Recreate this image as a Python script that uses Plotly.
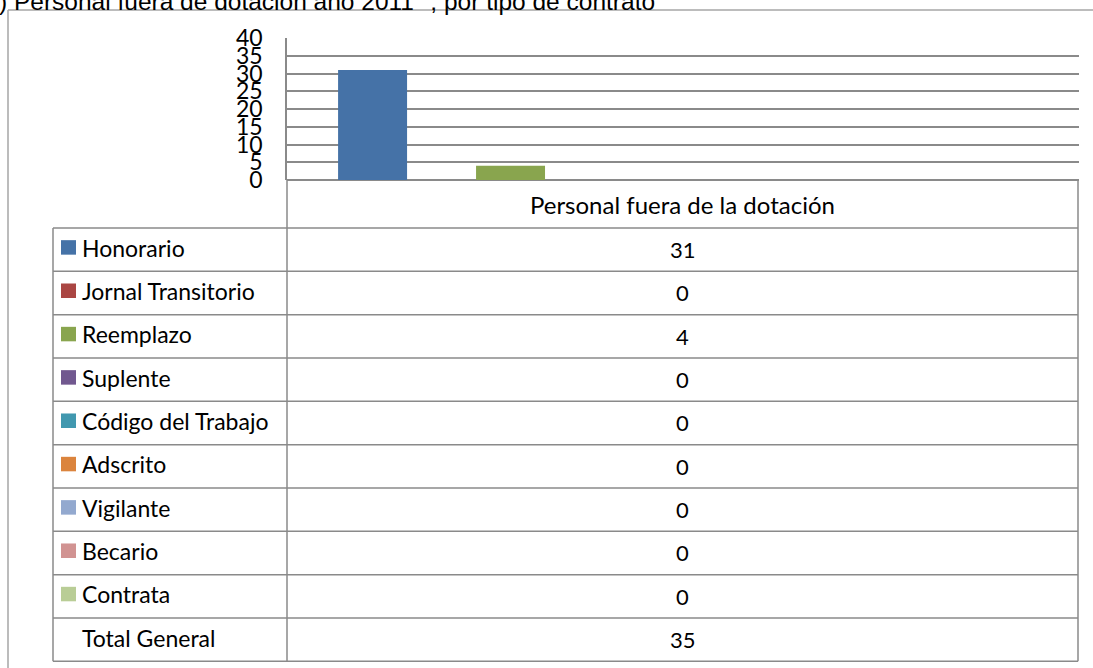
import plotly.graph_objects as go

W, H = 1093, 668

category = "Personal fuera de la dotación"
series_names = ["Honorario", "Jornal Transitorio", "Reemplazo", "Suplente",
                "Código del Trabajo", "Adscrito", "Vigilante", "Becario", "Contrata"]
series_values = [31, 0, 4, 0, 0, 0, 0, 0, 0]
series_colors = ["#4572A7", "#AA4643", "#89A54E", "#71588F", "#4198AF",
                 "#DB843D", "#93A9CF", "#D19392", "#B9CD96"]
total_label = "Total General"
total_value = 35
y_ticks = [0, 5, 10, 15, 20, 25, 30, 35, 40]
title_text = ") Personal fuera de dotación año 2011 <sup>1</sup>, por tipo de contrato"

FONT = "Lato"
LINE = "#8a8a8a"


def px(x):
    return x / W


def py(y):
    return 1 - y / H


# layout geometry (pixels)
plot_l, plot_r, plot_t, plot_b = 287, 1079, 38, 180
tab_l, tab_div, tab_r = 53, 287, 1078
head_b = 228
row_h = 43.33

fig = go.Figure()
for name, val, col in zip(series_names, series_values, series_colors):
    fig.add_trace(go.Bar(x=[category], y=[val], name=name, marker_color=col,
                         marker_line_width=0, showlegend=False))
# total series occupies a slot but is not drawn
fig.add_trace(go.Bar(x=[category], y=[total_value], name=total_label,
                     marker_color="rgba(0,0,0,0)", marker_line_width=0,
                     showlegend=False))

shapes = []
annotations = []


def hline(x0, x1, y, color=LINE, w=1.5):
    shapes.append(dict(type="line", xref="paper", yref="paper",
                       x0=px(x0), x1=px(x1), y0=py(y), y1=py(y),
                       line=dict(color=color, width=w)))


def vline(x, y0, y1, color=LINE, w=1.5):
    shapes.append(dict(type="line", xref="paper", yref="paper",
                       x0=px(x), x1=px(x), y0=py(y0), y1=py(y1),
                       line=dict(color=color, width=w)))


# outer chart border
hline(8, W + 5, 10, color="#a6a6a6", w=1.5)
vline(8, 10, H + 5, color="#a6a6a6", w=1.5)

# header cell
vline(plot_l, plot_b, head_b)
vline(tab_r, plot_b, head_b)
annotations.append(dict(xref="paper", yref="paper", x=px((plot_l + tab_r) / 2),
                        y=py((plot_b + head_b) / 2), text=category, showarrow=False,
                        font=dict(family=FONT, size=24, color="#000"),
                        xanchor="center", yanchor="middle"))

rows = list(zip(series_names, series_values, series_colors)) + [(total_label, total_value, None)]
n = len(rows)
table_b = head_b + row_h * n
for i in range(n + 1):
    hline(tab_l, tab_r, head_b + row_h * i)
vline(tab_l, head_b, table_b)
vline(tab_div, head_b, table_b)
vline(tab_r, head_b, table_b)

for i, (name, val, col) in enumerate(rows):
    yc = head_b + row_h * (i + 0.5)
    if col is not None:
        shapes.append(dict(type="rect", xref="paper", yref="paper",
                           x0=px(61), x1=px(76), y0=py(yc - 9.5), y1=py(yc + 5),
                           fillcolor=col, line=dict(width=0)))
    annotations.append(dict(xref="paper", yref="paper", x=px(80), y=py(yc - 2),
                            text=name, showarrow=False, xanchor="left", yanchor="middle",
                            font=dict(family=FONT, size=23, color="#000")))
    annotations.append(dict(xref="paper", yref="paper", x=px((tab_div + tab_r) / 2),
                            y=py(yc), text=str(val), showarrow=False,
                            xanchor="center", yanchor="middle",
                            font=dict(family=FONT, size=22, color="#000")))

# title (partially cut at the top)
annotations.append(dict(xref="paper", yref="paper", x=px(-3), y=py(-1),
                        text=title_text, showarrow=False, xanchor="left", yanchor="middle",
                        font=dict(family="Liberation Sans", size=24.5, color="#000")))

fig.update_layout(
    width=W, height=H,
    margin=dict(l=0, r=0, t=0, b=0, pad=0, autoexpand=False),
    paper_bgcolor="white", plot_bgcolor="white",
    barmode="group", bargap=0.129, bargroupgap=0,
    shapes=shapes, annotations=annotations,
    xaxis=dict(domain=[px(plot_l), px(plot_r)], range=[-0.5, 0.5],
               showticklabels=False, showgrid=False, zeroline=False,
               showline=False, fixedrange=True, automargin=False),
    yaxis=dict(domain=[py(plot_b), py(plot_t)], range=[0, 40],
               tickvals=y_ticks, ticktext=[str(v) for v in y_ticks],
               showgrid=True, gridcolor=LINE, gridwidth=1.5,
               zeroline=True, zerolinecolor=LINE, zerolinewidth=1.5,
               showline=True, linecolor=LINE, linewidth=1.5,
               ticks="", ticklabelstandoff=18, automargin=False,
               tickfont=dict(family=FONT, size=23, color="#000"),
               fixedrange=True),
)

fig.write_html("out.html", config={"displayModeBar": False},
               post_script="document.body.style.margin='0';document.body.style.overflow='hidden';")
